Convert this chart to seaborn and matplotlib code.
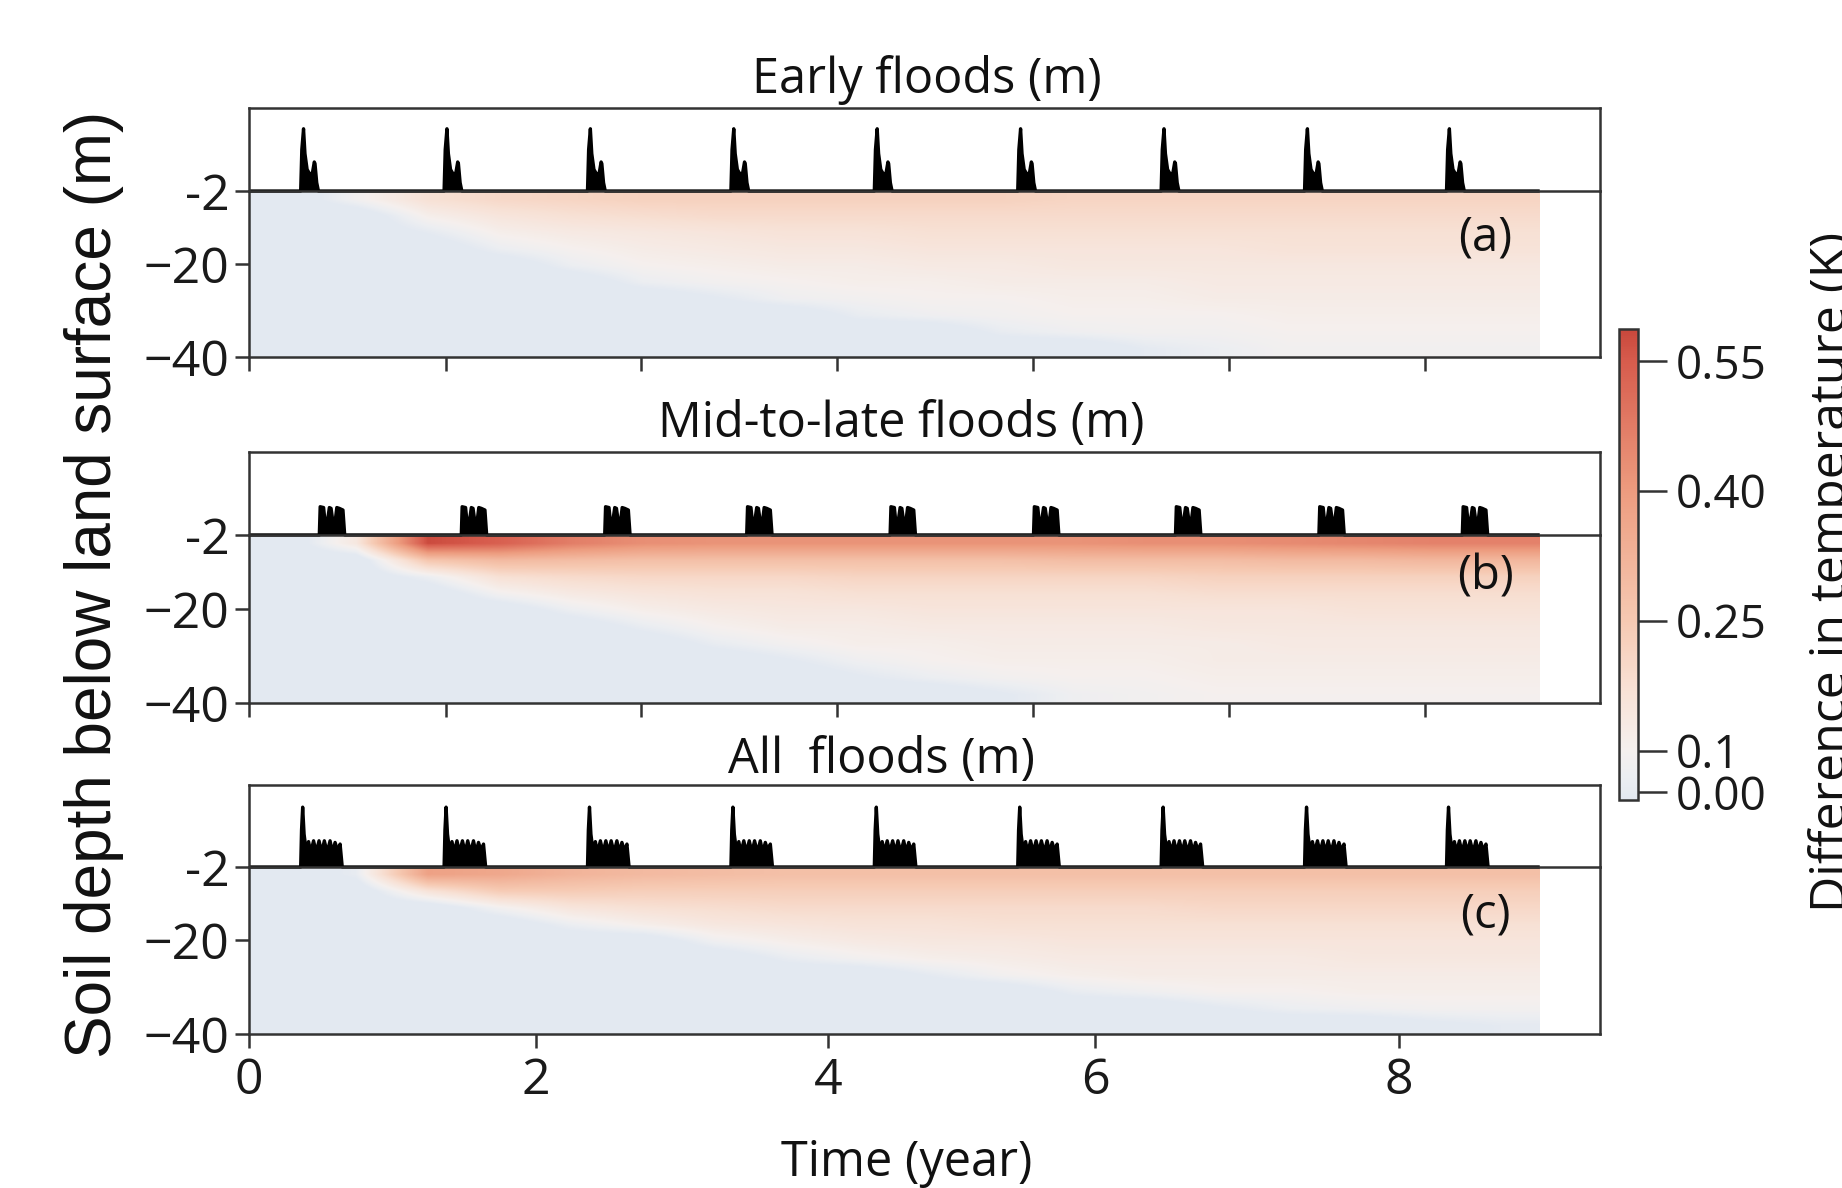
import numpy as np
import matplotlib
matplotlib.use("Agg")
import matplotlib.pyplot as plt
import seaborn as sns
from matplotlib.colors import LinearSegmentedColormap, Normalize
from matplotlib.cm import ScalarMappable

# ---------------- values ----------------
# one flood event: offset from event start (year) and water depth (relative)
early_offset = [0, 0.008, 0.020, 0.030, 0.045, 0.065, 0.082, 0.095, 0.100, 0.112, 0.124]
early_depth = [0, 0.50, 0.75, 0.45, 0.26, 0.20, 0.22, 0.35, 0.33, 0.10, 0]
mid_offset = [0, 0.006, 0.030, 0.040, 0.055, 0.070, 0.082, 0.095, 0.110, 0.122, 0.140, 0.165, 0.177]
mid_depth = [0, 0.34, 0.33, 0.16, 0.15, 0.33, 0.32, 0.16, 0.16, 0.33, 0.32, 0.30, 0]
all_offset = [0, 0.006, 0.014, 0.024, 0.040, 0.055, 0.070, 0.090, 0.108, 0.128, 0.147,
              0.165, 0.185, 0.205, 0.222, 0.240, 0.258, 0.275, 0.290]
all_depth = [0, 0.45, 0.73, 0.40, 0.18, 0.31, 0.18, 0.32, 0.18, 0.32, 0.18,
             0.32, 0.18, 0.32, 0.18, 0.30, 0.20, 0.28, 0]

# start of each yearly flood (year)
early_start = [0.36, 1.36, 2.36, 3.36, 4.36, 5.36, 6.36, 7.36, 8.35]
mid_start = [0.49, 1.48, 2.48, 3.47, 4.47, 5.47, 6.46, 7.46, 8.46]
all_start = [0.36, 1.36, 2.36, 3.36, 4.36, 5.36, 6.36, 7.36, 8.35]

# temperature difference (K): 10 soil layers (top -> bottom) x 18 half-year columns (0 -> 9 yr)
early_dT = [
    [0, .09, .17, .20, .21, .22, .22, .22, .22, .22, .22, .21, .21, .21, .21, .21, .21, .21],
    [0, 0, .11, .15, .17, .18, .19, .19, .19, .19, .19, .19, .19, .19, .19, .19, .19, .19],
    [0, 0, .05, .11, .13, .14, .15, .16, .16, .17, .17, .17, .17, .17, .17, .17, .17, .17],
    [0, 0, 0, .07, .10, .12, .13, .14, .14, .15, .15, .15, .15, .15, .16, .16, .16, .16],
    [0, 0, 0, 0, .07, .10, .11, .12, .12, .13, .13, .14, .14, .14, .14, .14, .14, .14],
    [0, 0, 0, 0, 0, .07, .09, .10, .11, .11, .12, .12, .12, .13, .13, .13, .13, .13],
    [0, 0, 0, 0, 0, 0, .04, .08, .09, .10, .10, .11, .11, .12, .12, .12, .12, .12],
    [0, 0, 0, 0, 0, 0, 0, 0, .06, .08, .09, .10, .10, .10, .11, .11, .11, .11],
    [0, 0, 0, 0, 0, 0, 0, 0, 0, 0, .06, .08, .09, .09, .10, .10, .10, .10],
    [0, 0, 0, 0, 0, 0, 0, 0, 0, 0, 0, 0, .05, .07, .09, .09, .09, .09],
]
mid_dT = [
    [0, .14, .58, .54, .47, .43, .42, .42, .42, .42, .42, .42, .43, .43, .44, .45, .46, .46],
    [0, 0, .26, .30, .29, .28, .28, .28, .28, .28, .28, .29, .29, .29, .30, .30, .31, .31],
    [0, 0, .07, .17, .19, .20, .20, .20, .21, .21, .21, .21, .21, .22, .22, .22, .22, .22],
    [0, 0, 0, .09, .13, .15, .16, .16, .17, .17, .17, .17, .17, .18, .18, .18, .18, .18],
    [0, 0, 0, 0, .07, .11, .13, .14, .14, .15, .15, .15, .15, .15, .15, .16, .16, .16],
    [0, 0, 0, 0, 0, .06, .10, .12, .12, .13, .13, .13, .13, .14, .14, .14, .14, .14],
    [0, 0, 0, 0, 0, 0, .06, .09, .11, .11, .12, .12, .12, .12, .13, .13, .13, .13],
    [0, 0, 0, 0, 0, 0, 0, .04, .08, .10, .11, .11, .11, .12, .12, .12, .12, .12],
    [0, 0, 0, 0, 0, 0, 0, 0, .04, .07, .09, .10, .10, .11, .11, .11, .11, .11],
    [0, 0, 0, 0, 0, 0, 0, 0, 0, 0, .04, .08, .09, .10, .10, .10, .10, .10],
]
all_dT = [
    [0, .06, .38, .36, .32, .30, .29, .28, .28, .28, .28, .28, .28, .28, .28, .28, .28, .28],
    [0, 0, .16, .24, .24, .23, .23, .23, .23, .23, .23, .23, .23, .23, .23, .23, .23, .23],
    [0, 0, 0, .09, .15, .17, .18, .19, .19, .19, .19, .19, .19, .20, .20, .20, .20, .20],
    [0, 0, 0, 0, .07, .11, .14, .15, .16, .16, .17, .17, .17, .17, .17, .17, .17, .17],
    [0, 0, 0, 0, 0, 0, .08, .11, .13, .14, .14, .15, .15, .15, .15, .15, .15, .15],
    [0, 0, 0, 0, 0, 0, 0, .06, .09, .11, .12, .13, .13, .13, .13, .14, .14, .14],
    [0, 0, 0, 0, 0, 0, 0, 0, 0, .05, .09, .11, .12, .12, .12, .12, .12, .12],
    [0, 0, 0, 0, 0, 0, 0, 0, 0, 0, 0, .06, .08, .10, .10, .11, .11, .11],
    [0, 0, 0, 0, 0, 0, 0, 0, 0, 0, 0, 0, 0, .04, .07, .08, .09, .09],
    [0, 0, 0, 0, 0, 0, 0, 0, 0, 0, 0, 0, 0, 0, 0, 0, .03, .05],
]

sim_end = 9.0          # last simulated year
time_max = 9.42        # right edge of the axes
depth_ticks = [0, 4.4, 10]
depth_labels = ["-2", "\u221220", "\u221240"]
upper_xticks = [0, 1.37, 2.73, 4.1, 5.47, 6.83, 8.2]
year_ticks = [0, 2.0, 4.04, 5.9, 8.02]
year_labels = ["0", "2", "4", "6", "8"]
cbar_ticks = [0.052, 0.1, 0.25, 0.40, 0.55]
cbar_labels = ["0.00", "0.1", "0.25", "0.40", "0.55"]

titles = ["Early floods (m)", "Mid-to-late floods (m)", "All  floods (m)"]
tags = ["(a)", "(b)", "(c)"]


def flood_series(starts, offsets, depths):
    t, d = [0.0], [0.0]
    for s in starts:
        t += [s + o for o in offsets]
        d += list(depths)
    t.append(sim_end)
    d.append(0.0)
    return t, d


sns.set_theme(style="ticks")
plt.rcParams["font.family"] = ["Open Sans", "DejaVu Sans"]
plt.rcParams["axes.edgecolor"] = "#333333"
plt.rcParams["axes.linewidth"] = 1.8
plt.rcParams["xtick.color"] = "#333333"
plt.rcParams["ytick.color"] = "#333333"
plt.rcParams["xtick.labelcolor"] = "#1a1a1a"
plt.rcParams["ytick.labelcolor"] = "#1a1a1a"

vmin, vmax = 0.043, 0.587
anchors = [(0.043, "#e3e9f1"), (0.07, "#eceef2"), (0.10, "#f5f0ee"), (0.17, "#f8e1d5"),
           (0.25, "#f6c9b2"), (0.40, "#ed9c7f"), (0.55, "#d75c4d"), (0.587, "#c9483c")]
cmap = LinearSegmentedColormap.from_list(
    "dT", [((v - vmin) / (vmax - vmin), c) for v, c in anchors])
norm = Normalize(vmin=vmin, vmax=vmax)

fig = plt.figure(figsize=(18.42, 11.88), dpi=100)

left, width = 0.1352, 0.7334
strip_pos = [(0.8392, 0.0699), (0.5497, 0.0699), (0.2702, 0.0690)]
heat_pos = [(0.6995, 0.1397), (0.4082, 0.1414), (0.1296, 0.1406)]
title_pos = [(0.5033, 0.9217), (0.4891, 0.6324), (0.4783, 0.3493)]
tag_y = [1 - 238 / 1188, 1 - 577 / 1188, 1 - 915 / 1188]

floods = [(early_start, early_offset, early_depth),
          (mid_start, mid_offset, mid_depth),
          (all_start, all_offset, all_depth)]
grids = [early_dT, mid_dT, all_dT]

for i in range(3):
    ax_h = fig.add_axes([left, heat_pos[i][0], width, heat_pos[i][1]])
    ax_s = fig.add_axes([left, strip_pos[i][0], width, strip_pos[i][1]])
    ax_s.set_facecolor("none")

    # soil temperature difference
    ax_h.imshow(np.array(grids[i]), cmap=cmap, norm=norm, aspect="auto",
                extent=(0, sim_end, 10, 0), interpolation="bilinear")
    ax_h.set_xlim(0, time_max)
    ax_h.set_ylim(10, 0)
    ax_h.spines["top"].set_visible(False)
    ax_h.set_yticks(depth_ticks)
    ax_h.set_yticklabels(depth_labels)
    if i < 2:
        ax_h.set_xticks(upper_xticks)
        ax_h.set_xticklabels([])
    else:
        ax_h.set_xticks(year_ticks)
        ax_h.set_xticklabels(year_labels)
    ax_h.tick_params(direction="out", length=10, width=1.8, labelsize=36, pad=4)
    ax_h.tick_params(axis="x", pad=6)

    # flood water depth strip
    t, d = flood_series(*floods[i])
    ax_s.fill_between(t, d, 0, color="black", lw=0)
    sns.lineplot(x=t, y=d, ax=ax_s, color="black", lw=2.4,
                 estimator=None, sort=False)
    for ln in ax_s.lines:
        ln.set_clip_on(False)
        ln.set_solid_capstyle("butt")
    ax_s.set_xlim(0, time_max)
    ax_s.set_ylim(0, 1)
    ax_s.set_xticks([])
    ax_s.set_yticks([])
    ax_s.set_xlabel("")
    ax_s.set_ylabel("")

    fig.text(title_pos[i][0], title_pos[i][1], titles[i], ha="center",
             va="baseline", fontsize=35, color="#111111")
    fig.text(1485 / 1842, tag_y[i], tags[i], ha="center", va="center",
             fontsize=34, color="#111111")

# colorbar
cax = fig.add_axes([0.879, 1 - 800 / 1188, 0.0103, 471 / 1188])
cb = fig.colorbar(ScalarMappable(norm=norm, cmap=cmap), cax=cax)
cb.set_ticks(cbar_ticks)
cb.set_ticklabels(cbar_labels)
cb.outline.set_linewidth(1.8)
cb.outline.set_edgecolor("#333333")
cax.tick_params(length=21, width=1.8, labelsize=33, pad=6)

fig.text(1808 / 1842, 1 - 572 / 1188, "Difference in temperature (K)",
         rotation=90, ha="left", va="center", fontsize=36, color="#111111")
fig.text(94 / 1842, 0.508, "Soil depth below land surface (m)", rotation=90,
         ha="center", va="center", fontsize=46, family="Liberation Sans",
         color="#111111")
fig.text(907 / 1842, 1 - 1163 / 1188, "Time (year)", ha="center", va="center",
         fontsize=35, color="#111111")

fig.savefig("out.png", dpi=100)
